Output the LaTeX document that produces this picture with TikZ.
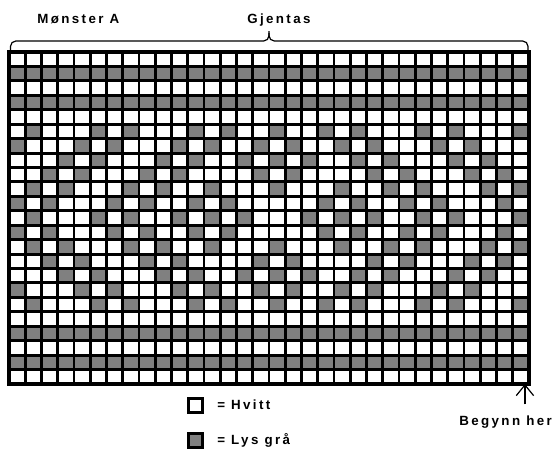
\documentclass[tikz,border=0pt]{standalone}
\usepackage{fontspec}
\setmainfont{Liberation Sans}
\newfontfamily\chartfont[LetterSpace=18]{Liberation Sans}
\usetikzlibrary{arrows.meta}
\definecolor{cellgray}{HTML}{808080}
\tikzset{
  % lines of the chart
  gridline/.style={line width=2.2pt, line cap=rect},
  gridborder/.style={line width=2.6pt},
  % texts above and below the chart
  chartlabel/.style={font=\chartfont\bfseries\fontsize{10}{12}\selectfont,
                     inner sep=0pt, anchor=base west},
  % squares of the key
  legendbox/.style={rectangle, fill=#1, draw=black, line width=1.6pt,
                    minimum size=10.5pt, inner sep=0pt},
  bracestyle/.style={line width=0.9pt},
  startarrow/.style={-{Straight Barb[length=8pt, width=13pt]}, line width=0.9pt},
}
% gray squares of the motif, by distance from the middle row
\newcommand{\motifrows}{%
  \foreach \d/\cols in {0/{2,6,8,11,13,15,19,21,23,26,28,32},
                        1/{1,3,7,9,12,14,20,22,25,27,31},
                        2/{2,4,8,10,13,17,21,24,26,30,32},
                        3/{3,5,9,11,16,18,23,25,29,31},
                        4/{4,6,10,12,15,17,19,22,24,28,30},
                        5/{1,5,7,11,13,16,18,21,23,27,29},
                        6/{2,6,8,12,14,17,20,22,26,28,32}}
    \foreach \c in \cols {
      \fill[cellgray] (\c-1,11-\d) rectangle (\c,12-\d);
      \fill[cellgray] (\c-1,11+\d) rectangle (\c,12+\d);
    }%
}

\begin{document}
\begin{tikzpicture}[x=0.75pt, y=-0.75pt]
  \useasboundingbox (0,0) rectangle (558,455);
  % chart, one unit per square
  \begin{scope}[shift={(9,52)}, x=12.1875pt, y=-10.826pt]
    \fill[white] (0,0) rectangle (32,23);
    \foreach \r in {2,4,20,22}
      \fill[cellgray] (0,\r-1) rectangle (32,\r);
    \motifrows
    \foreach \c in {0,...,32}
      \draw[gridline] (\c,0) -- (\c,23);
    \foreach \r in {0,...,23}
      \draw[gridline] (0,\r) -- (32,\r);
    \draw[gridborder] (0,0) rectangle (32,23);
    \coordinate (starthere) at (31.75,23);
  \end{scope}

  % brace over the chart
  \draw[bracestyle, rounded corners=4pt] (10.5,51) |- (269,41) -- (269,31);
  \draw[bracestyle, rounded corners=4pt] (269,33) |- (528,41) -- (528,51);

  \node[chartlabel] (pattern) at (37,23.3) {Mønster A};
  \node[chartlabel] (repeat)  at (247,23.3) {Gjentas};

  % key
  \node[legendbox=white]    (whitebox) at (195.5,405.5) {};
  \node[chartlabel] (whitelabel) at (217,409) {= Hvitt};
  \node[legendbox=cellgray] (graybox)  at (195.5,440.5) {};
  \node[chartlabel] (graylabel)  at (217,444) {= Lys grå};

  % where to begin
  \node[chartlabel] (beginlabel) at (459,425) {Begynn her};
  \draw[startarrow, shorten <=8pt] (beginlabel.north -| starthere) -- (starthere);
\end{tikzpicture}
\end{document}
